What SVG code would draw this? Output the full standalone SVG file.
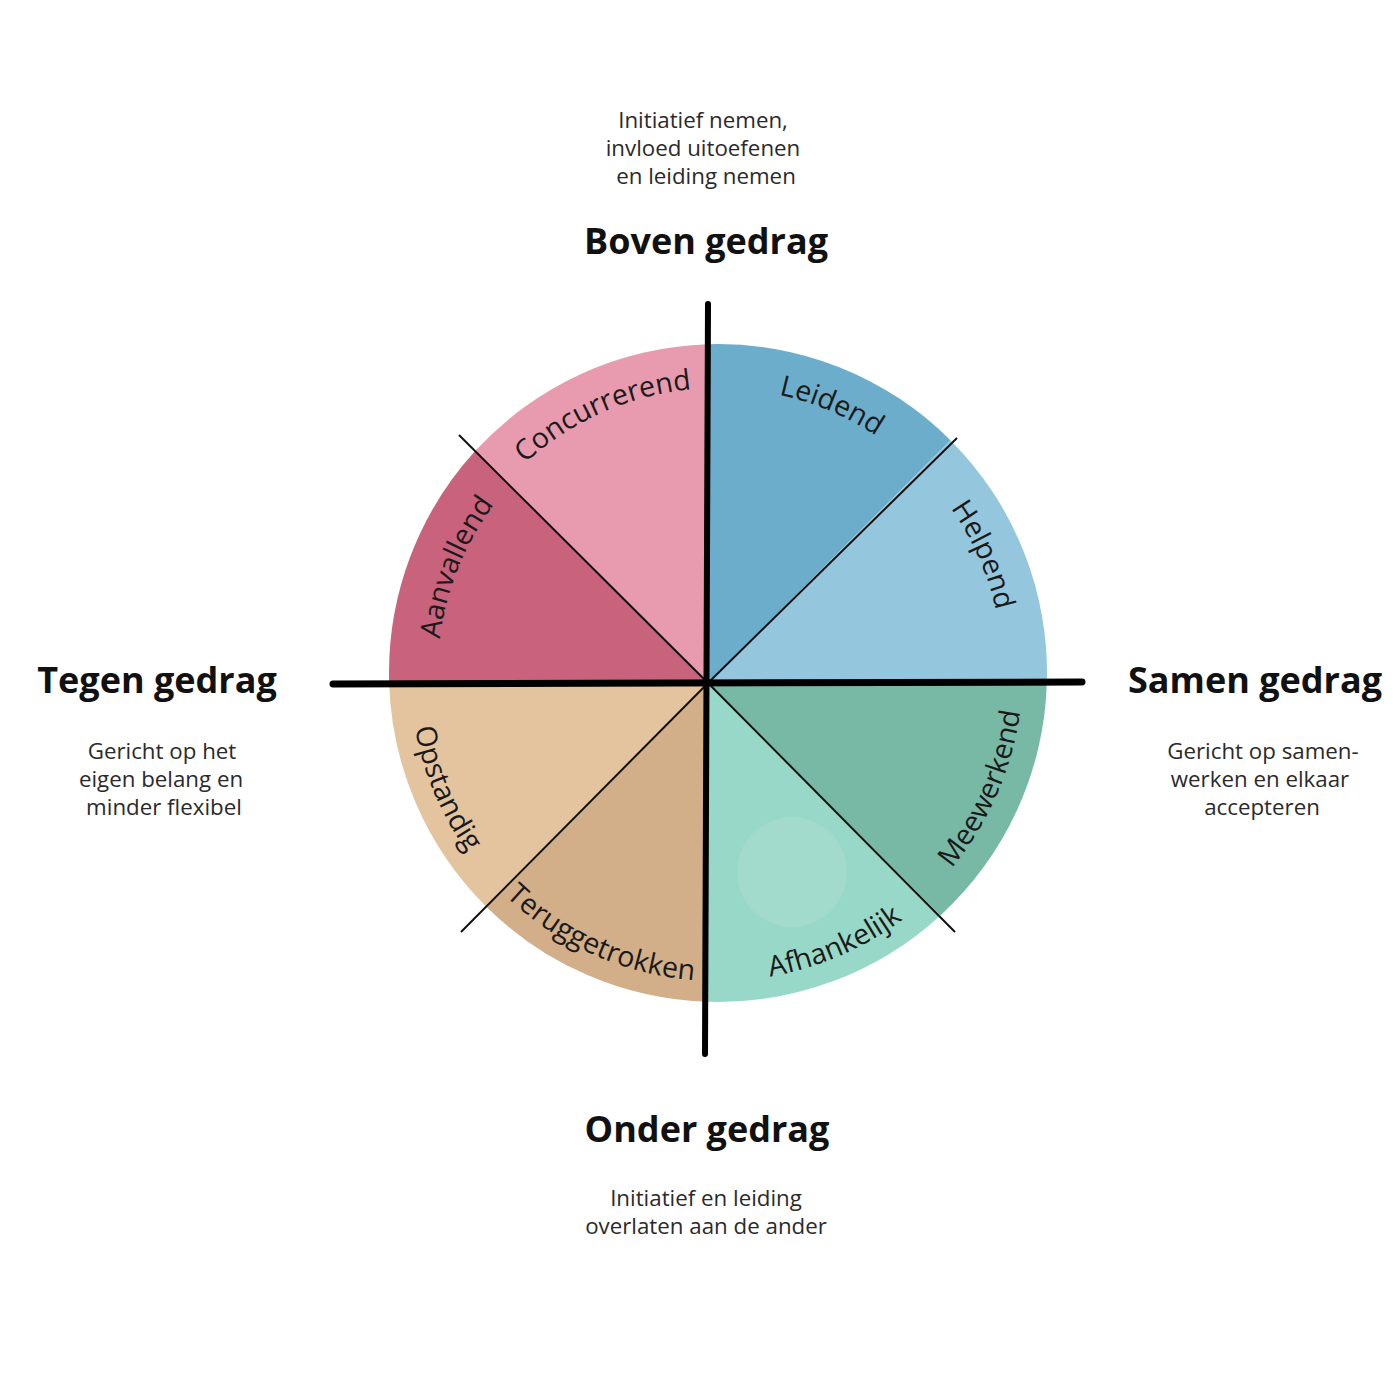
<svg xmlns="http://www.w3.org/2000/svg" width="1400" height="1400" viewBox="0 0 1400 1400">
<style>
.head{font-family:"Open Sans","DejaVu Sans",sans-serif;font-weight:700;font-size:36px;fill:#111;text-anchor:middle}
.desc{font-family:"Open Sans","DejaVu Sans",sans-serif;font-size:22.3px;fill:#2a2a2a;text-anchor:middle}
.lbl{font-family:"Open Sans","DejaVu Sans",sans-serif;font-size:28.5px;fill:#1a1a1a}
.div{stroke:#111;stroke-width:2;fill:none}
.axis{stroke:#000;stroke-linecap:round;fill:none}
</style>
<defs>
<path id="pConc" d="M433.7,692.9 A285,285 0 0 1 923.0,475.0"/>
<path id="pLeid" d="M509.6,478.6 A285,285 0 0 1 1002.6,687.9"/>
<path id="pHelp" d="M698.1,388.7 A285,285 0 0 1 916.0,878.0"/>
<path id="pAanv" d="M529.3,882.6 A283,283 0 0 1 727.8,391.2"/>
<path id="pMeew" d="M691.2,979.8 A310,310 0 0 0 935.8,455.2"/>
<path id="pAfha" d="M496.5,887.0 A308,308 0 0 0 1025.3,651.5"/>
<path id="pTeru" d="M410.7,651.5 A308,308 0 0 0 939.5,887.0"/>
<path id="pOpst" d="M507.9,447.7 A308,308 0 0 0 734.1,980.6"/>
</defs>
<rect width="1400" height="1400" fill="#fff"/>
<g id="sectors">
<g id="leidend"><path d="M708,683 L708,344.15 A329,329 0 0 1 950.6,440.4 Z" fill="#6cadcb"/><text class="lbl"><textPath href="#pLeid" startOffset="50%" text-anchor="middle">Leidend</textPath></text></g>
<g id="helpend"><path d="M708,683 L950.6,440.4 A329,329 0 0 1 1046.85,683 Z" fill="#94c6dd"/><text class="lbl"><textPath href="#pHelp" startOffset="50%" text-anchor="middle">Helpend</textPath></text></g>
<g id="meewerkend"><path d="M708,683 L1046.85,683 A329,329 0 0 1 940.4,915.4 Z" fill="#78b9a5"/><text class="lbl"><textPath href="#pMeew" startOffset="51%" text-anchor="middle">Meewerkend</textPath></text></g>
<g id="afhankelijk"><path d="M708,683 L940.4,915.4 A329,329 0 0 1 708,1001.85 Z" fill="#98d8c8"/><circle cx="792" cy="872" r="55" fill="#a2dacb"/><text class="lbl"><textPath href="#pAfha" startOffset="49.5%" text-anchor="middle">Afhankelijk</textPath></text></g>
<g id="teruggetrokken"><path d="M708,683 L708,1001.85 A329,329 0 0 1 485.3,905.7 Z" fill="#d2ae89"/><text class="lbl"><textPath href="#pTeru" startOffset="50%" text-anchor="middle">Teruggetrokken</textPath></text></g>
<g id="opstandig"><path d="M708,683 L485.3,905.7 A329,329 0 0 1 389.15,683 Z" fill="#e3c49f"/><text class="lbl"><textPath href="#pOpst" startOffset="50%" text-anchor="middle">Opstandig</textPath></text></g>
<g id="aanvallend"><path d="M708,683 L389.15,683 A329,329 0 0 1 475.6,450.6 Z" fill="#c9627d"/><text class="lbl"><textPath href="#pAanv" startOffset="50%" text-anchor="middle">Aanvallend</textPath></text></g>
<g id="concurrerend"><path d="M708,683 L475.6,450.6 A329,329 0 0 1 708,344.15 Z" fill="#e89aae"/><text class="lbl"><textPath href="#pConc" startOffset="50%" text-anchor="middle">Concurrerend</textPath></text></g>
</g>
<g id="connectors">
<line class="div" x1="459" y1="435" x2="708" y2="683"/>
<line class="div" x1="957" y1="438" x2="708" y2="683"/>
<line class="div" x1="461" y1="932" x2="708" y2="683"/>
<line class="div" x1="955" y1="932" x2="708" y2="683"/>
<line class="axis" x1="333" y1="684" x2="1082" y2="682" stroke-width="7"/>
<line class="axis" x1="708" y1="304" x2="705" y2="1054" stroke-width="6"/>
</g>
<g id="boven">
<text class="desc" x="703" y="128">Initiatief nemen,</text>
<text class="desc" x="703" y="156">invloed uitoefenen</text>
<text class="desc" x="706" y="184">en leiding nemen</text>
<text class="head" x="706" y="254">Boven gedrag</text>
</g>
<g id="tegen">
<text class="head" x="157" y="693">Tegen gedrag</text>
<text class="desc" x="162" y="759">Gericht op het</text>
<text class="desc" x="161" y="787">eigen belang en</text>
<text class="desc" x="164" y="815">minder flexibel</text>
</g>
<g id="samen">
<text class="head" x="1255" y="693">Samen gedrag</text>
<text class="desc" x="1263" y="759">Gericht op samen-</text>
<text class="desc" x="1260" y="787">werken en elkaar</text>
<text class="desc" x="1262" y="815">accepteren</text>
</g>
<g id="onder">
<text class="head" x="707" y="1142">Onder gedrag</text>
<text class="desc" x="706" y="1206">Initiatief en leiding</text>
<text class="desc" x="706" y="1234">overlaten aan de ander</text>
</g>
</svg>
